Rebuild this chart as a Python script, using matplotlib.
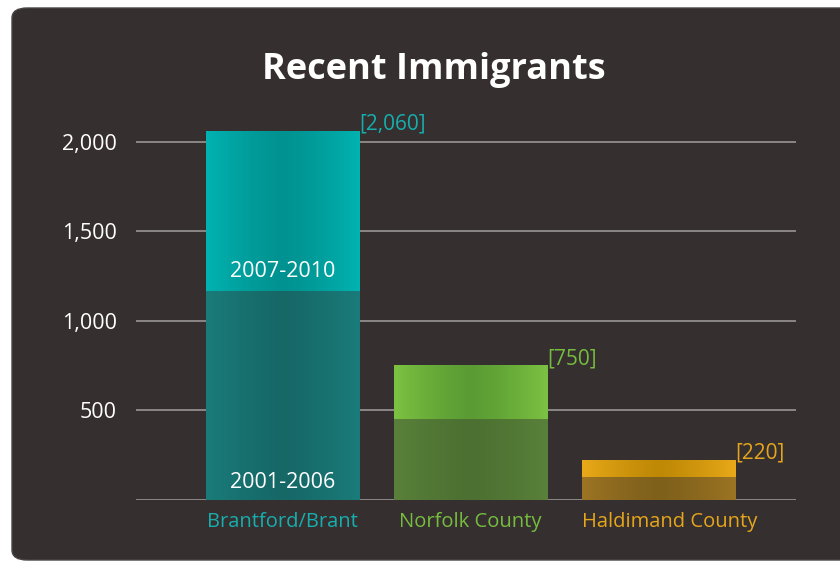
import numpy as np
import matplotlib
matplotlib.use("Agg")
import matplotlib.pyplot as plt
from matplotlib.patches import FancyBboxPatch
from matplotlib.colors import LinearSegmentedColormap
from matplotlib.transforms import blended_transform_factory, offset_copy

plt.rcParams['font.family'] = ['Open Sans', 'DejaVu Sans']

# data
regions = ["Brantford/Brant", "Norfolk County", "Haldimand County"]
early = [1170, 450, 130]      # 2001-2006
recent = [890, 300, 90]       # 2007-2010
totals = [2060, 750, 220]
total_labels = ["[2,060]", "[750]", "[220]"]
yticks = [500, 1000, 1500, 2000]
ytick_labels = ["500", "1,000", "1,500", "2,000"]

# colours: (edge, centre) for top and bottom segments, plus text colour
top_cols = [("#00b3b1", "#009290"), ("#7cc242", "#5a9c33"), ("#e9a919", "#bf8906")]
bot_cols = [("#1a7c7a", "#166867"), ("#5a813b", "#4c7031"), ("#9c7424", "#7f601b")]
text_cols = ["#17aeae", "#76bd3f", "#e6a61b"]
bg = "#352f2f"

fig = plt.figure(figsize=(8.4, 5.61), dpi=100)
fig.patch.set_facecolor("white")

# rounded dark panel (runs off the right edge)
panel = FancyBboxPatch((12 / 840, 1 / 561), 1.2, 552 / 561,
                       boxstyle="round,pad=0,rounding_size=0.018",
                       transform=fig.transFigure, facecolor=bg, edgecolor="#4a4545",
                       lw=1, zorder=-10)
fig.patches.append(panel)

ax = fig.add_axes([136 / 840, 61 / 561, 660 / 840, 376 / 561])
ax.set_facecolor("none")
for s in ax.spines.values():
    s.set_visible(False)

for y in [0] + yticks:
    ax.axhline(y, color="#8c8787", lw=1.4, zorder=1)

ax.set_yticks(yticks)
ax.set_yticklabels(ytick_labels, color="white", fontsize=15.5)
ax.tick_params(axis="y", length=0, pad=14)
ax.set_xticks([])

width = 0.814
grad = np.abs(np.linspace(-1, 1, 200))[None, :] ** 1.3


def gradient_bar(x, y0, h, cols, z):
    cmap = LinearSegmentedColormap.from_list("g", [cols[1], cols[0]])
    ax.imshow(grad, cmap=cmap, aspect="auto", interpolation="bicubic",
              extent=(x - width / 2, x + width / 2, y0, y0 + h), zorder=z)


# category names below the baseline; the last one hangs off its bar's left edge
cat_tr = offset_copy(blended_transform_factory(ax.transData, ax.transAxes),
                     fig=fig, y=-22, units="dots")
for i, name in enumerate(regions):
    last = i == len(regions) - 1
    ax.text(i - width / 2 if last else i, 0, name, color=text_cols[i], fontsize=14.5,
            ha="left" if last else "center", va="center", transform=cat_tr)

for i in range(len(regions)):
    gradient_bar(i, 0, early[i], bot_cols[i], 2)
    gradient_bar(i, early[i], recent[i], top_cols[i], 2)
    ax.text(i + width / 2, totals[i] + 40, total_labels[i], color=text_cols[i],
            fontsize=15, ha="left", va="center", zorder=3)

ax.set_xlim(-0.779, 2.731)
ax.set_ylim(0, 2100)

ax.text(0, early[0] + 45, "2007-2010", color="white", fontsize=15.5, ha="center", va="bottom", zorder=3)
ax.text(0, 40, "2001-2006", color="white", fontsize=15.5, ha="center", va="bottom", zorder=3)

fig.text(434 / 840, 1 - 70 / 561, "Recent Immigrants", color="white", fontsize=26,
         fontweight="bold", ha="center", va="center")

fig.savefig("out.png", dpi=100, facecolor=fig.get_facecolor())
